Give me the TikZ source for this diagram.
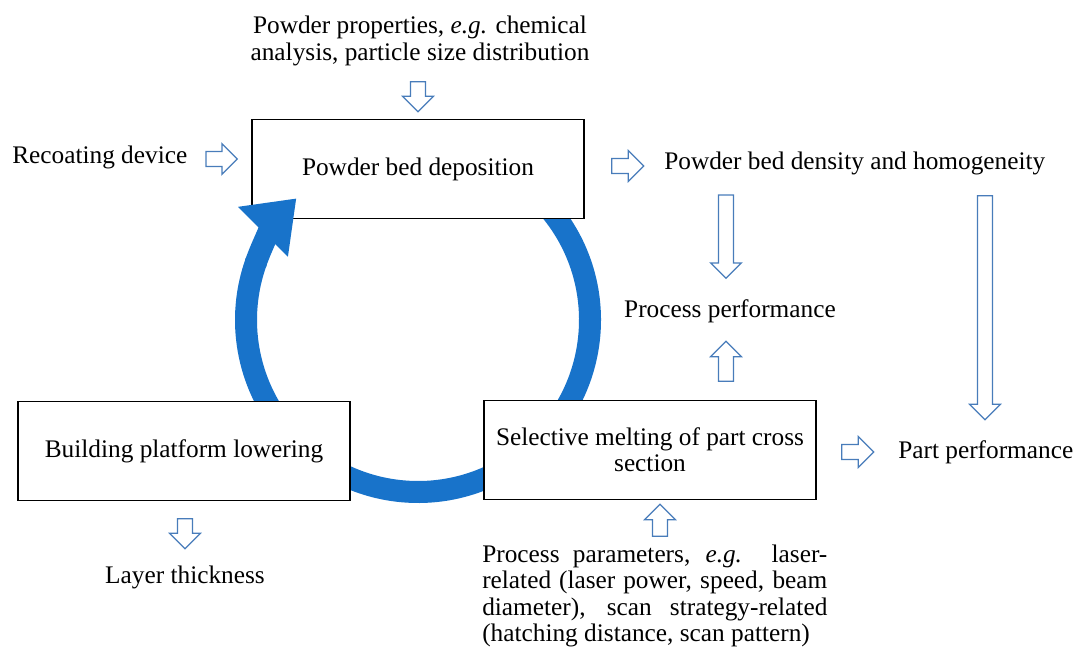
\documentclass[tikz,border=0pt]{standalone}
\usepackage{fontspec}
\setmainfont{Liberation Serif}
\usetikzlibrary{arrows.meta, shapes.arrows, positioning}

\definecolor{cycleblue}{RGB}{24,115,202}
\definecolor{arrowblue}{RGB}{72,124,186}

\tikzset{
  stage/.style={draw, line width=0.9pt, fill=white, minimum width=8.3cm, minimum height=2.47cm, align=center},
  hollow/.style={single arrow, draw=arrowblue, fill=white, line width=0.9pt, inner sep=0.17cm, single arrow head extend=0.2cm},
  label/.style={inner sep=0pt, align=center},
  cycle/.style={cycleblue, line width=0.55cm}
}

\begin{document}
\begin{tikzpicture}[x=0.025cm, y=-0.025cm, font=\fontsize{18}{18.7}\selectfont]

\useasboundingbox (0,0) rectangle (1077,648);

% Cycle ring behind the boxes
\coordinate (hub) at (418,320);
\draw[cycle] (hub) ++(-40:172) arc[start angle=-40, end angle=200, radius=172];

% Process steps
\node[stage] (deposition) at (418,169) {Powder bed deposition};
\node[stage] (lowering) at (184,451) {Building platform lowering};
\node[stage] (melting) at (650,450) {Selective melting of part cross\\section};

% Head of the ring on top of the box
\draw[cycle, -{Triangle[length=1.18cm, width=1.68cm]}]
  (hub) ++(199:172) arc[start angle=199, end angle=225, radius=172];

% Inputs
\node[label] (powder) at (420,41) {Powder properties, \emph{e.g.} chemical\\analysis, particle size distribution};
\node[label, anchor=west] (recoat) at (12,157) {Recoating device};
\node[label, anchor=west, text width=8.625cm, align=justify] (params) at (482,596)
  {Process parameters, \emph{e.g.} laser-\linebreak related (laser power, speed, beam diameter), scan strategy-related (hatching distance, scan pattern)};

% Outputs
\node[label, anchor=west] (density) at (664,163) {Powder bed density and homogeneity};
\node[label] (procperf) at (730,311) {Process performance};
\node[label, anchor=west] (partperf) at (898,452) {Part performance};
\node[label] (layer) at (185,577) {Layer thickness};

% Hollow arrows
\node[hollow, minimum height=0.75cm, shape border rotate=270] (a1) at (418,93) {};
\node[hollow, minimum height=0.78cm] (a2) at (218,159) {};
\node[hollow, minimum height=0.8cm] (a3) at (624,166) {};
\node[hollow, minimum height=2.08cm, shape border rotate=270] (a4) at (726,233) {};
\node[hollow, minimum height=1.0cm, shape border rotate=90] (a5) at (726,365) {};
\node[hollow, minimum height=5.6cm, shape border rotate=270] (a6) at (985,304) {};
\node[hollow, minimum height=0.8cm] (a7) at (854,452) {};
\node[hollow, minimum height=0.8cm, shape border rotate=90] (a8) at (660,524) {};
\node[hollow, minimum height=0.75cm, shape border rotate=270] (a9) at (185,530) {};

\end{tikzpicture}
\end{document}
